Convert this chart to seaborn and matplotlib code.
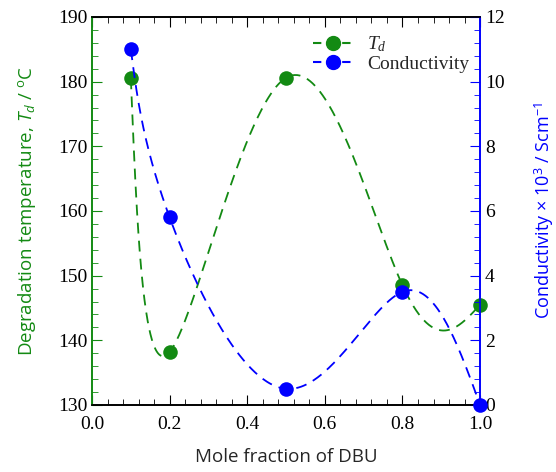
import numpy as np
import pandas as pd
import seaborn as sns
import matplotlib.pyplot as plt
from matplotlib.lines import Line2D
from matplotlib.ticker import MultipleLocator

# Dados
mole_fraction = [0.1, 0.2, 0.5, 0.8, 1.0]
td_values = [180.5, 138.2, 180.6, 148.5, 145.5]
conductivity = [11.0, 5.8, 0.5, 3.5, 0.0]

GREEN = '#138a13'
BLUE = '#0000ff'
DASH = (0, (6, 4))


def spline_1d(t, y, ts):
    """Spline cúbica natural de y em função de t."""
    k = len(t)
    h = np.diff(t)
    A = np.zeros((k, k))
    b = np.zeros(k)
    A[0, 0] = A[-1, -1] = 1
    for i in range(1, k - 1):
        A[i, i - 1] = h[i - 1]
        A[i, i] = 2 * (h[i - 1] + h[i])
        A[i, i + 1] = h[i]
        b[i] = 3 * ((y[i + 1] - y[i]) / h[i] - (y[i] - y[i - 1]) / h[i - 1])
    c = np.linalg.solve(A, b)
    idx = np.clip(np.searchsorted(t, ts) - 1, 0, k - 2)
    dt = ts - t[idx]
    hi = h[idx]
    bb = (y[idx + 1] - y[idx]) / hi - hi * (2 * c[idx] + c[idx + 1]) / 3
    dd = (c[idx + 1] - c[idx]) / (3 * hi)
    return y[idx] + bb * dt + c[idx] * dt ** 2 + dd * dt ** 3


def smooth_curve(x, y, n=400):
    """Curva paramétrica suave (parâmetro uniforme) só para o desenho."""
    x = np.asarray(x, float)
    y = np.asarray(y, float)
    t = np.arange(len(x), dtype=float)
    ts = np.linspace(0, t[-1], n)
    return spline_1d(t, x, ts), spline_1d(t, y, ts)


def main():
    sns.set_style('ticks')
    plt.rcParams['font.family'] = ['Liberation Serif', 'DejaVu Serif']
    plt.rcParams['mathtext.fontset'] = 'custom'
    plt.rcParams['mathtext.it'] = 'Liberation Serif:italic'
    plt.rcParams['mathtext.sf'] = 'Open Sans:italic'
    plt.rcParams['mathtext.rm'] = 'Open Sans'

    fig = plt.figure(figsize=(5.56, 4.72), dpi=100)
    ax = fig.add_axes([0.1655, 0.142, 0.698, 0.822])
    ax2 = ax.twinx()

    df = pd.DataFrame({'x': mole_fraction, 'td': td_values, 'cond': conductivity})

    xs, ys = smooth_curve(mole_fraction, td_values)
    ax.plot(xs, ys, color=GREEN, linestyle=DASH, linewidth=1.3)
    sns.scatterplot(data=df, x='x', y='td', ax=ax, color=GREEN, s=110,
                    edgecolor=GREEN, linewidth=0, zorder=5, clip_on=False)

    xs, ys = smooth_curve(mole_fraction, conductivity)
    ax2.plot(xs, ys, color=BLUE, linestyle=DASH, linewidth=1.3)
    sns.scatterplot(data=df, x='x', y='cond', ax=ax2, color=BLUE, s=110,
                    edgecolor=BLUE, linewidth=0, zorder=5, clip_on=False)

    ax.set_xlim(0, 1.0)
    ax.set_ylim(130, 190)
    ax2.set_ylim(0, 12)

    ax.xaxis.set_major_locator(MultipleLocator(0.2))
    ax.xaxis.set_minor_locator(MultipleLocator(0.04))
    ax.yaxis.set_major_locator(MultipleLocator(10))
    ax.yaxis.set_minor_locator(MultipleLocator(2))
    ax2.yaxis.set_major_locator(MultipleLocator(2))
    ax2.yaxis.set_minor_locator(MultipleLocator(0.4))
    ax.xaxis.set_major_formatter(plt.FormatStrFormatter('%.1f'))

    ax.tick_params(axis='x', which='both', direction='in', top=True, labelsize=14,
                   colors='black', pad=8)
    ax.tick_params(axis='x', which='major', length=7)
    ax.tick_params(axis='x', which='minor', length=4)
    ax.tick_params(axis='y', which='both', direction='in', color=GREEN, labelcolor='black',
                   labelsize=14)
    ax.tick_params(axis='y', which='major', length=7)
    ax.tick_params(axis='y', which='minor', length=4)
    ax2.tick_params(axis='y', which='both', direction='in', color=BLUE, labelcolor='black',
                    labelsize=14)
    ax2.tick_params(axis='y', which='major', length=7)
    ax2.tick_params(axis='y', which='minor', length=4)

    for a in (ax, ax2):
        a.spines['top'].set_color('black')
        a.spines['bottom'].set_color('black')
        a.spines['left'].set_color(GREEN)
        a.spines['right'].set_color(BLUE)
        for s in a.spines.values():
            s.set_linewidth(1.2)

    ax.set_xlabel('Mole fraction of DBU', fontsize=13.5, family='Open Sans', labelpad=11)
    ax.set_ylabel(r'Degradation temperature, $\mathsf{T_d}$ / $^{\mathrm{o}}$C', fontsize=13.5,
                  family='Open Sans', color=GREEN, labelpad=14)
    ax2.set_ylabel('Conductivity × 10$^{3}$ / Scm$^{-1}$', fontsize=13,
                   family='Open Sans', color=BLUE, labelpad=20)

    handles = [
        Line2D([], [], color=GREEN, linestyle=(0, (4, 3)), marker='o', markersize=10),
        Line2D([], [], color=BLUE, linestyle=(0, (4, 3)), marker='o', markersize=10),
    ]
    ax2.legend(handles, [r'$T_d$', 'Conductivity'], loc='upper right', frameon=False,
               fontsize=14, handlelength=2.1, handletextpad=0.7, labelspacing=0.05,
               borderaxespad=0.5, bbox_to_anchor=(1.018, 1.0))

    fig.savefig('out.png', dpi=100)


if __name__ == '__main__':
    main()
